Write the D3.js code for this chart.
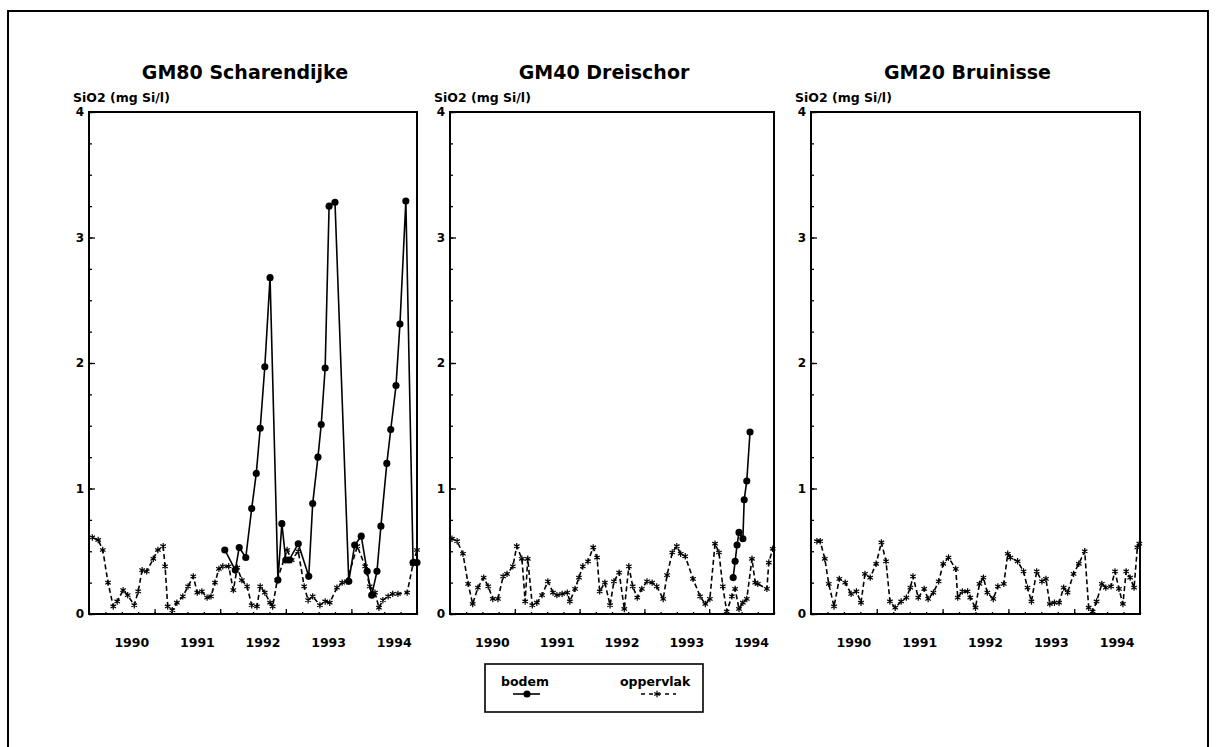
<!DOCTYPE html>
<html>
<head>
  <title>SiO2</title>
  <script src="https://cdn.jsdelivr.net/npm/d3@7"></script>
  <style>
    body { margin: 0; background: #fff; }
    text { font-family: "DejaVu Sans", Arial, sans-serif; fill: #000; }
  </style>
</head>
<body>
  <svg width="1216" height="747" id="mainsvg"></svg>
  <script>
    const svg = d3.select('svg');

    // data: [decimal year, mg Si/l]
    const titles = ['GM80 Scharendijke', 'GM40 Dreischor', 'GM20 Bruinisse'];
    const yLabel = 'SiO2 (mg Si/l)';
    const yearLabels = [1990, 1991, 1992, 1993, 1994];
    const yTicks = [0, 1, 2, 3, 4];
    const legendNames = ['bodem', 'oppervlak'];

    const gm80Bodem = [[1992.07,0.51],[1992.23,0.35],[1992.29,0.53],[1992.39,0.45],[1992.48,0.84],[1992.55,1.12],
      [1992.61,1.48],[1992.68,1.97],[1992.76,2.68],[1992.88,0.27],[1992.94,0.72],[1993.00,0.43],[1993.05,0.43],
      [1993.19,0.56],[1993.35,0.30],[1993.41,0.88],[1993.49,1.25],[1993.54,1.51],[1993.60,1.96],[1993.66,3.25],
      [1993.75,3.28],[1993.96,0.26],[1994.05,0.55],[1994.15,0.62],[1994.24,0.34],[1994.31,0.15],[1994.39,0.34],
      [1994.45,0.70],[1994.54,1.20],[1994.60,1.47],[1994.68,1.82],[1994.74,2.31],[1994.83,3.29],[1994.94,0.41],[1995.0,0.41]];
    const gm80Opp = [[1990.05,0.61],[1990.14,0.59],[1990.21,0.51],[1990.29,0.25],[1990.37,0.06],[1990.43,0.10],
      [1990.52,0.19],[1990.59,0.15],[1990.69,0.07],[1990.75,0.18],[1990.81,0.35],[1990.88,0.34],[1990.98,0.44],
      [1991.05,0.51],[1991.13,0.54],[1991.16,0.38],[1991.20,0.06],[1991.27,0.03],[1991.34,0.09],[1991.43,0.14],
      [1991.51,0.22],[1991.59,0.30],[1991.65,0.17],[1991.72,0.18],[1991.80,0.13],[1991.86,0.14],[1991.92,0.25],
      [1991.98,0.36],[1992.04,0.38],[1992.13,0.38],[1992.20,0.19],[1992.26,0.37],[1992.33,0.27],[1992.41,0.22],
      [1992.48,0.07],[1992.56,0.06],[1992.61,0.22],[1992.68,0.17],[1992.76,0.09],[1992.80,0.06],[1992.87,0.27],
      [1993.02,0.51],[1993.09,0.43],[1993.19,0.50],[1993.28,0.22],[1993.34,0.11],[1993.41,0.14],[1993.52,0.07],
      [1993.60,0.10],[1993.67,0.09],[1993.78,0.21],[1993.86,0.25],[1993.93,0.26],[1994.09,0.54],[1994.21,0.38],
      [1994.28,0.22],[1994.36,0.17],[1994.42,0.05],[1994.48,0.11],[1994.56,0.14],[1994.63,0.16],[1994.71,0.16],
      [1994.85,0.17],[1994.94,0.40],[1995.0,0.51]];

    const gm40Bodem = [[1994.37,0.29],[1994.40,0.42],[1994.43,0.55],[1994.46,0.65],[1994.52,0.60],
      [1994.54,0.91],[1994.58,1.06],[1994.63,1.45]];
    const gm40Opp = [[1990.03,0.60],[1990.11,0.58],[1990.20,0.48],[1990.28,0.24],[1990.35,0.08],[1990.43,0.21],
      [1990.52,0.29],[1990.59,0.22],[1990.66,0.12],[1990.74,0.12],[1990.82,0.30],[1990.88,0.32],[1990.97,0.38],
      [1991.03,0.54],[1991.11,0.44],[1991.16,0.10],[1991.20,0.44],[1991.27,0.07],[1991.34,0.09],[1991.42,0.15],
      [1991.51,0.26],[1991.59,0.17],[1991.65,0.15],[1991.73,0.16],[1991.81,0.17],[1991.85,0.10],[1991.93,0.20],
      [1991.99,0.29],[1992.05,0.38],[1992.13,0.42],[1992.21,0.53],[1992.27,0.45],[1992.31,0.18],[1992.39,0.25],
      [1992.47,0.07],[1992.53,0.26],[1992.61,0.33],[1992.69,0.04],[1992.76,0.38],[1992.82,0.22],[1992.89,0.13],
      [1992.96,0.20],[1993.04,0.26],[1993.12,0.25],[1993.19,0.22],[1993.29,0.12],[1993.35,0.31],[1993.43,0.49],
      [1993.50,0.54],[1993.56,0.48],[1993.63,0.46],[1993.75,0.28],[1993.86,0.14],[1993.94,0.08],[1994.01,0.12],
      [1994.09,0.56],[1994.15,0.49],[1994.21,0.22],[1994.27,0.02],[1994.35,0.14],[1994.40,0.20],[1994.46,0.04],
      [1994.52,0.09],[1994.58,0.12],[1994.66,0.44],[1994.71,0.25],[1994.75,0.24],[1994.89,0.20],[1994.92,0.41],[1994.98,0.52]];

    const gm20Opp = [[1990.09,0.58],[1990.14,0.58],[1990.21,0.44],[1990.27,0.24],[1990.35,0.06],[1990.43,0.28],
      [1990.52,0.25],[1990.61,0.16],[1990.69,0.18],[1990.76,0.09],[1990.82,0.32],[1990.90,0.29],[1990.99,0.40],
      [1991.07,0.57],[1991.14,0.42],[1991.20,0.10],[1991.28,0.05],[1991.37,0.10],[1991.45,0.13],[1991.51,0.21],
      [1991.55,0.30],[1991.63,0.13],[1991.72,0.20],[1991.78,0.12],[1991.86,0.17],[1991.94,0.26],[1992.01,0.40],
      [1992.09,0.45],[1992.20,0.36],[1992.23,0.13],[1992.30,0.18],[1992.38,0.18],[1992.42,0.13],[1992.50,0.05],
      [1992.56,0.24],[1992.62,0.29],[1992.68,0.17],[1992.77,0.12],[1992.84,0.22],[1992.93,0.24],[1992.99,0.48],
      [1993.03,0.45],[1993.14,0.42],[1993.23,0.34],[1993.29,0.21],[1993.35,0.10],[1993.43,0.34],[1993.51,0.26],
      [1993.57,0.28],[1993.63,0.08],[1993.70,0.09],[1993.77,0.09],[1993.84,0.21],[1993.90,0.17],[1993.99,0.32],
      [1994.07,0.40],[1994.16,0.50],[1994.22,0.05],[1994.28,0.02],[1994.34,0.10],[1994.42,0.24],[1994.48,0.21],
      [1994.56,0.22],[1994.62,0.34],[1994.68,0.20],[1994.74,0.08],[1994.79,0.34],[1994.85,0.29],[1994.91,0.21],
      [1994.96,0.53],[1994.99,0.56]];

    const panels = [
      {title: titles[0], bodem: gm80Bodem, opp: gm80Opp, left: 89, right: 417},
      {title: titles[1], bodem: gm40Bodem, opp: gm40Opp, left: 450, right: 774},
      {title: titles[2], bodem: [], opp: gm20Opp, left: 811, right: 1140}
    ];
    const plotTop = 112, plotBottom = 614;

    // outer frame
    svg.append('path')
      .attr('d', 'M8,747V11H1208V747')
      .attr('fill', 'none').attr('stroke', '#000').attr('stroke-width', 2);

    const star = d3.symbol(d3.symbolAsterisk, 28);
    const dot = d3.symbol(d3.symbolCircle, 40);

    panels.forEach(p => {
      const x = d3.scaleLinear().domain([1990, 1995]).range([p.left, p.right]);
      const y = d3.scaleLinear().domain([0, 4]).range([plotBottom, plotTop]);
      const g = svg.append('g');

      // title and unit label
      g.append('text')
        .attr('x', (p.left + p.right) / 2 - 8).attr('y', 79)
        .attr('text-anchor', 'middle')
        .attr('font-size', 19).attr('font-weight', 'bold')
        .text(p.title);
      g.append('text')
        .attr('x', p.left - 16).attr('y', 102)
        .attr('font-size', 12.5).attr('font-weight', 'bold')
        .text(yLabel);

      // y axis, ticks inward
      g.append('g')
        .attr('transform', `translate(${p.left},0)`)
        .call(d3.axisRight(y).tickValues(d3.range(0, 4.01, 0.25)).tickSize(3).tickFormat(''))
        .call(a => a.select('.domain').remove());
      g.append('g')
        .attr('transform', `translate(${p.left},0)`)
        .call(d3.axisRight(y).tickValues(yTicks).tickSize(6).tickFormat(''))
        .call(a => a.select('.domain').remove());
      g.selectAll('.ylab').data(yTicks).join('text')
        .attr('class', 'ylab')
        .attr('x', p.left - 5).attr('y', d => y(d) + 4)
        .attr('text-anchor', 'end')
        .attr('font-size', 12).attr('font-weight', 'bold')
        .text(d => d);

      // x axis, ticks inward
      g.append('g')
        .attr('transform', `translate(0,${plotBottom})`)
        .call(d3.axisTop(x).tickValues(d3.range(1990, 1995.01, 0.25)).tickSize(2).tickFormat(''))
        .call(a => a.select('.domain').remove());
      g.append('g')
        .attr('transform', `translate(0,${plotBottom})`)
        .call(d3.axisTop(x).tickValues([1991, 1992, 1993, 1994]).tickSize(5).tickFormat(''))
        .call(a => a.select('.domain').remove());
      g.selectAll('.xlab').data(yearLabels).join('text')
        .attr('class', 'xlab')
        .attr('x', d => x(d + 0.5) + 10).attr('y', 647)
        .attr('text-anchor', 'middle')
        .attr('font-size', 12.5).attr('font-weight', 'bold')
        .text(d => d);

      g.selectAll('.tick line').attr('stroke', '#000').attr('stroke-width', 1.3);

      // frame
      g.append('rect')
        .attr('x', p.left).attr('y', plotTop)
        .attr('width', p.right - p.left).attr('height', plotBottom - plotTop)
        .attr('fill', 'none').attr('stroke', '#000').attr('stroke-width', 2);

      const line = d3.line().x(d => x(d[0])).y(d => y(d[1]));

      g.append('path').datum(p.opp)
        .attr('d', line)
        .attr('fill', 'none').attr('stroke', '#000')
        .attr('stroke-width', 1.6).attr('stroke-dasharray', '5,3');
      g.selectAll('.star').data(p.opp).join('path')
        .attr('class', 'star')
        .attr('transform', d => `translate(${x(d[0])},${y(d[1])})`)
        .attr('d', star)
        .attr('fill', 'none').attr('stroke', '#000').attr('stroke-width', 1.2);

      if (p.bodem.length) {
        g.append('path').datum(p.bodem)
          .attr('d', line)
          .attr('fill', 'none').attr('stroke', '#000').attr('stroke-width', 1.6);
        g.selectAll('.dot').data(p.bodem).join('path')
          .attr('class', 'dot')
          .attr('transform', d => `translate(${x(d[0])},${y(d[1])})`)
          .attr('d', dot)
          .attr('fill', '#000');
      }
    });

    // legend
    const lg = svg.append('g');
    lg.append('rect')
      .attr('x', 485).attr('y', 664).attr('width', 218).attr('height', 48)
      .attr('fill', 'none').attr('stroke', '#000').attr('stroke-width', 1.6);
    lg.append('text').attr('x', 501).attr('y', 686)
      .attr('font-size', 12.5).attr('font-weight', 'bold').text(legendNames[0]);
    lg.append('text').attr('x', 620).attr('y', 686)
      .attr('font-size', 12.5).attr('font-weight', 'bold').text(legendNames[1]);
    lg.append('line').attr('x1', 513).attr('x2', 540).attr('y1', 694).attr('y2', 694)
      .attr('stroke', '#000').attr('stroke-width', 1.6);
    lg.append('path').attr('transform', 'translate(527,694)').attr('d', dot).attr('fill', '#000');
    lg.append('line').attr('x1', 641).attr('x2', 676).attr('y1', 694).attr('y2', 694)
      .attr('stroke', '#000').attr('stroke-width', 1.6).attr('stroke-dasharray', '4,4');
    lg.append('path').attr('transform', 'translate(657,694)').attr('d', star)
      .attr('fill', 'none').attr('stroke', '#000').attr('stroke-width', 1.2);
  </script>
</body>
</html>
